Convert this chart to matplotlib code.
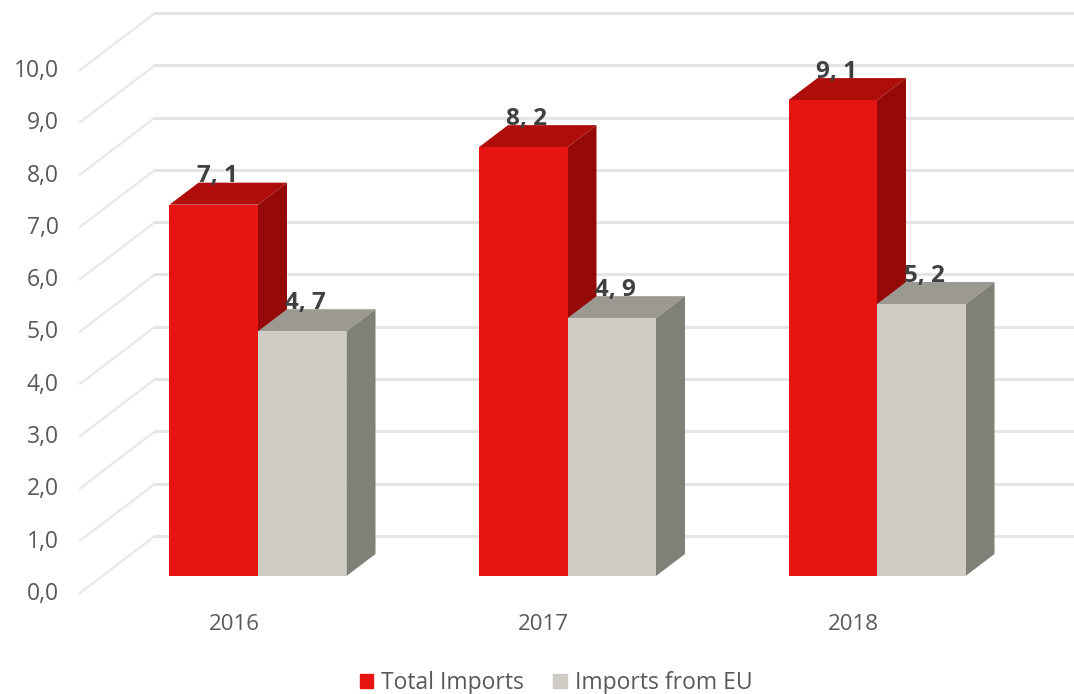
import matplotlib
matplotlib.use("Agg")
import matplotlib.pyplot as plt
from matplotlib.patches import Patch, Polygon

years = ["2016", "2017", "2018"]
total_imports = [7.1, 8.2, 9.1]
eu_imports = [4.68, 4.93, 5.2]
y_ticks = [0, 1, 2, 3, 4, 5, 6, 7, 8, 9, 10]

W, H = 1074, 694
PX_X = 309.5  # pixels per category
PX_Y = 52.3  # pixels per unit
X0, Y0 = 258, 576  # pixel position of first category, value 0

BAR_W = 88.5 / PX_X
DEPTH_X, DEPTH_Y = 29 / PX_X, 22 / PX_Y
TEXT = "#595959"

plt.rcParams["font.family"] = ["Open Sans", "DejaVu Sans"]
fig = plt.figure(figsize=(W / 100, H / 100), dpi=100)
ax = fig.add_axes([0, 0, 1, 1])
ax.set_xlim(-X0 / PX_X, (W - X0) / PX_X)
ax.set_ylim(-(H - Y0) / PX_Y, Y0 / PX_Y)
ax.axis("off")


def draw_bar(x, value, front, top, side):
    x2 = x + BAR_W
    ax.add_patch(Polygon([(x, value), (x + DEPTH_X, value + DEPTH_Y), (x2 + DEPTH_X, value + DEPTH_Y), (x2, value)],
                         color=top, lw=0, zorder=3))
    ax.add_patch(Polygon([(x2, 0), (x2 + DEPTH_X, DEPTH_Y), (x2 + DEPTH_X, value + DEPTH_Y), (x2, value)],
                         color=side, lw=0, zorder=3))
    ax.bar(x, value, BAR_W, align="edge", color=front, lw=0, zorder=3)
    ax.annotate(f"{value:.1f}".replace(".", ", "), (x + BAR_W / 2, value), xytext=(2.6, 20.5),
                textcoords="offset points", ha="center", va="center", fontsize=17.5, fontweight="bold",
                color="#404040", zorder=5)


# back wall and side wall gridlines
wall_back = 40 / PX_Y
wall_front = -17 / PX_Y
x_back = (155 - X0) / PX_X
x_front = (80 - X0) / PX_X
for v in y_ticks:
    ax.plot([x_back, ax.get_xlim()[1]], [v + wall_back, v + wall_back], color="#E5E5E5", lw=2.2, zorder=1)
    ax.plot([x_front, x_back], [v + wall_front, v + wall_back], color="#E8E8E8", lw=1.6, zorder=1)
    ax.text((59 - X0) / PX_X, v + wall_front - 1 / PX_Y, f"{v:.1f}".replace(".", ","), ha="right", va="center",
            fontsize=16.5, color=TEXT)

for i, year in enumerate(years):
    draw_bar(i - BAR_W, total_imports[i], "#E71511", "#AF0D0A", "#950A08")
    draw_bar(i, eu_imports[i], "#CFCBC5", "#9C9992", "#807F78")
    ax.text(i - 24 / PX_X, -48 / PX_Y, year, ha="center", va="center", fontsize=16, color=TEXT)

handles = [Patch(color="#E71511", label="Total Imports"), Patch(color="#CFCBC5", label="Imports from EU")]
ax.legend(handles=handles, loc="center", bbox_to_anchor=(556 / W, 1 - 683 / H), ncol=2, frameon=False,
          fontsize=16.5, labelcolor=TEXT, handlelength=0.6, handleheight=0.6, handletextpad=0.35, columnspacing=1.25,
          borderpad=0)

fig.savefig("out.png", dpi=100, facecolor="white")
